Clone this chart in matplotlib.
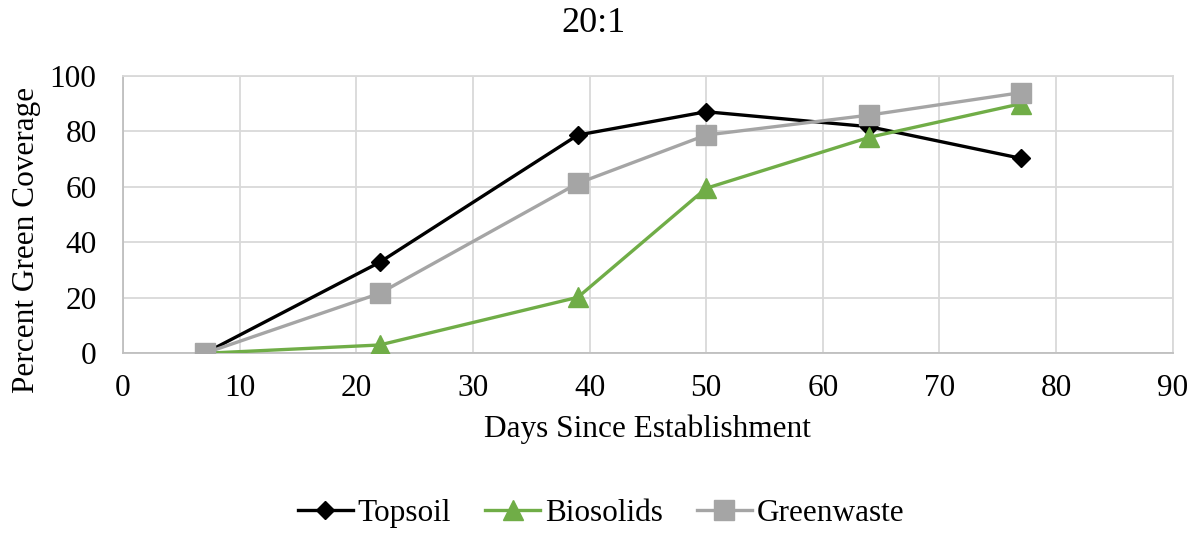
import matplotlib
matplotlib.use("Agg")
import matplotlib.pyplot as plt

days = [7, 22, 39, 50, 64, 77]
topsoil = [0, 32.8, 78.7, 87.1, 81.7, 70.3]
biosolids = [0, 3.0, 20.2, 59.5, 77.9, 90.0]
greenwaste = [0, 21.6, 61.3, 78.7, 85.9, 94.0]

x_ticks = [0, 10, 20, 30, 40, 50, 60, 70, 80, 90]
y_ticks = [0, 20, 40, 60, 80, 100]

plt.rcParams['font.family'] = ['Liberation Serif', 'DejaVu Serif']

fig = plt.figure(figsize=(12.02, 5.35), dpi=100)
ax = fig.add_axes([0.1023, 0.3396, 0.8733, 0.5184])

ax.plot(days, topsoil, color='black', lw=2.4, marker='D', ms=9.5, label='Topsoil', zorder=3)
ax.plot(days, biosolids, color='#70AD47', lw=2.4, marker='^', ms=14, label='Biosolids', zorder=3)
ax.plot(days, greenwaste, color='#A5A5A5', lw=2.4, marker='s', ms=15, label='Greenwaste', zorder=3)

ax.set_xlim(0, 90)
ax.set_ylim(0, 100)
ax.set_xticks(x_ticks)
ax.set_yticks(y_ticks)
ax.grid(True, color='#D9D9D9', lw=1.3, zorder=0)
ax.set_axisbelow(True)
for s in ['top', 'right']:
    ax.spines[s].set_color('#D9D9D9')
    ax.spines[s].set_linewidth(1.3)
for s in ['left', 'bottom']:
    ax.spines[s].set_color('#BFBFBF')
    ax.spines[s].set_linewidth(1.3)
ax.tick_params(axis='both', length=0, labelsize=22.5)
ax.tick_params(axis='x', pad=15)
ax.tick_params(axis='y', pad=19)

ax.set_title('20:1', fontsize=26, pad=32, x=0.448)
ax.set_xlabel('Days Since Establishment', fontsize=22.5, labelpad=8)
ax.set_ylabel('Percent Green Coverage', fontsize=22.5)
ax.yaxis.set_label_coords(-0.078, 0.408)

fig.legend(loc='center', bbox_to_anchor=(0.5, 0.04), ncol=3, frameon=False,
           fontsize=22.5, handlelength=1.75, columnspacing=1.1, handletextpad=0.15)

fig.savefig('out.png', dpi=100)
